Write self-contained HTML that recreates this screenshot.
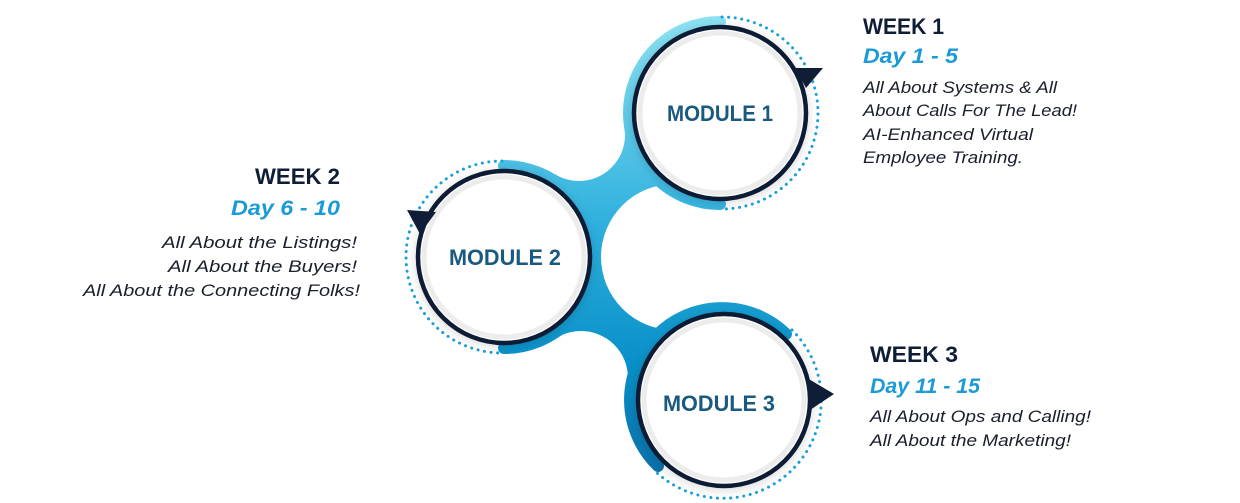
<!DOCTYPE html>
<html><head><meta charset="utf-8"><style>
html,body{margin:0;padding:0;background:#fff;width:1240px;height:503px;overflow:hidden}
svg text{font-family:"Liberation Sans",sans-serif}
.wk{font-weight:bold;font-size:22px;fill:#0f1e36}
.dy{font-weight:bold;font-style:italic;font-size:21px;fill:#1a9ad6}
.bd{font-style:italic;font-size:16.5px;fill:#1a1f2c}
.md{font-weight:bold;font-size:22px;fill:#1b5a80}
</style></head><body>
<svg width="1240" height="503" viewBox="0 0 1240 503" xmlns="http://www.w3.org/2000/svg">
<defs>
<linearGradient id="gb" gradientUnits="userSpaceOnUse" x1="0" y1="15" x2="0" y2="480">
<stop offset="0" stop-color="#8ee3f2"/><stop offset="0.45" stop-color="#2fb0de"/><stop offset="0.75" stop-color="#0890c8"/><stop offset="1" stop-color="#0a6ea8"/>
</linearGradient>
<filter id="sh" x="-30%" y="-30%" width="160%" height="160%"><feDropShadow dx="0" dy="2" stdDeviation="5" flood-color="#000" flood-opacity="0.15"/></filter>
</defs>
<!-- central blob -->
<polygon points="720,113 624,128 555,174 504,257 556,339 628,385 724,400 700,257" fill="url(#gb)"/>
<circle cx="579" cy="135" r="46" fill="#fff"/>
<circle cx="581" cy="378" r="47" fill="#fff"/>
<circle cx="674" cy="257" r="73" fill="#fff"/>
<!-- band arcs -->
<g fill="none" stroke="url(#gb)" stroke-width="12" stroke-linecap="round">
<path d="M720,22 A91,91 0 0 0 720,204"/>
<path d="M504,166 A91,91 0 0 1 504,348"/>
<path d="M786,334 A91,91 0 1 0 658,466"/>
</g>
<!-- dots -->
<g fill="none" stroke="#1aa0d8" stroke-width="3" stroke-dasharray="0.1 6.5" stroke-linecap="round">
<path d="M722,17 A96,96 0 0 1 722,209"/>
<path d="M502,161 A96,96 0 0 0 502,353"/>
<path d="M792,330 A97,97 0 0 1 654,470"/>
</g>
<!-- circles -->
<g filter="url(#sh)">
<circle cx="720" cy="113" r="86" fill="#fff" stroke="#0f1e36" stroke-width="4.5"/>
<circle cx="504" cy="257" r="86" fill="#fff" stroke="#0f1e36" stroke-width="4.5"/>
<circle cx="724" cy="400" r="86" fill="#fff" stroke="#0f1e36" stroke-width="4.5"/>
</g>
<g fill="none" stroke="#ececec" stroke-width="5">
<circle cx="720" cy="113" r="80"/><circle cx="504" cy="257" r="80"/><circle cx="724" cy="400" r="80"/>
</g>
<!-- arrowheads -->
<g fill="#0f1e36">
<polygon points="795,68 823,68 806,88"/>
<polygon points="407,210 436,212 420,234"/>
<polygon points="807,378 834,394 810,410"/>
</g>
<text class="md" x="720" y="121" text-anchor="middle" textLength="106" lengthAdjust="spacingAndGlyphs">MODULE 1</text>
<text class="md" x="505" y="265" text-anchor="middle" textLength="112" lengthAdjust="spacingAndGlyphs">MODULE 2</text>
<text class="md" x="719" y="411" text-anchor="middle" textLength="112" lengthAdjust="spacingAndGlyphs">MODULE 3</text>
<!-- week 1 -->
<text class="wk" x="863" y="34" textLength="81" lengthAdjust="spacingAndGlyphs">WEEK 1</text>
<text class="dy" x="863" y="63" textLength="95" lengthAdjust="spacingAndGlyphs">Day 1 - 5</text>
<text class="bd" x="863" y="93" textLength="194" lengthAdjust="spacingAndGlyphs">All About Systems &amp; All</text>
<text class="bd" x="863" y="116" textLength="214" lengthAdjust="spacingAndGlyphs">About Calls For The Lead!</text>
<text class="bd" x="863" y="140" textLength="170" lengthAdjust="spacingAndGlyphs">AI-Enhanced Virtual</text>
<text class="bd" x="863" y="163" textLength="160" lengthAdjust="spacingAndGlyphs">Employee Training.</text>
<!-- week 2 -->
<text class="wk" x="255" y="184" textLength="85" lengthAdjust="spacingAndGlyphs">WEEK 2</text>
<text class="dy" x="231" y="215" textLength="109" lengthAdjust="spacingAndGlyphs">Day 6 - 10</text>
<text class="bd" x="162" y="248" textLength="195" lengthAdjust="spacingAndGlyphs">All About the Listings!</text>
<text class="bd" x="168" y="272" textLength="189" lengthAdjust="spacingAndGlyphs">All About the Buyers!</text>
<text class="bd" x="83" y="296" textLength="277" lengthAdjust="spacingAndGlyphs">All About the Connecting Folks!</text>
<!-- week 3 -->
<text class="wk" x="870" y="362" textLength="88" lengthAdjust="spacingAndGlyphs">WEEK 3</text>
<text class="dy" x="870" y="393" textLength="110" lengthAdjust="spacingAndGlyphs">Day 11 - 15</text>
<text class="bd" x="870" y="422" textLength="221" lengthAdjust="spacingAndGlyphs">All About Ops and Calling!</text>
<text class="bd" x="870" y="446" textLength="201" lengthAdjust="spacingAndGlyphs">All About the Marketing!</text>
</svg>
</body></html>
